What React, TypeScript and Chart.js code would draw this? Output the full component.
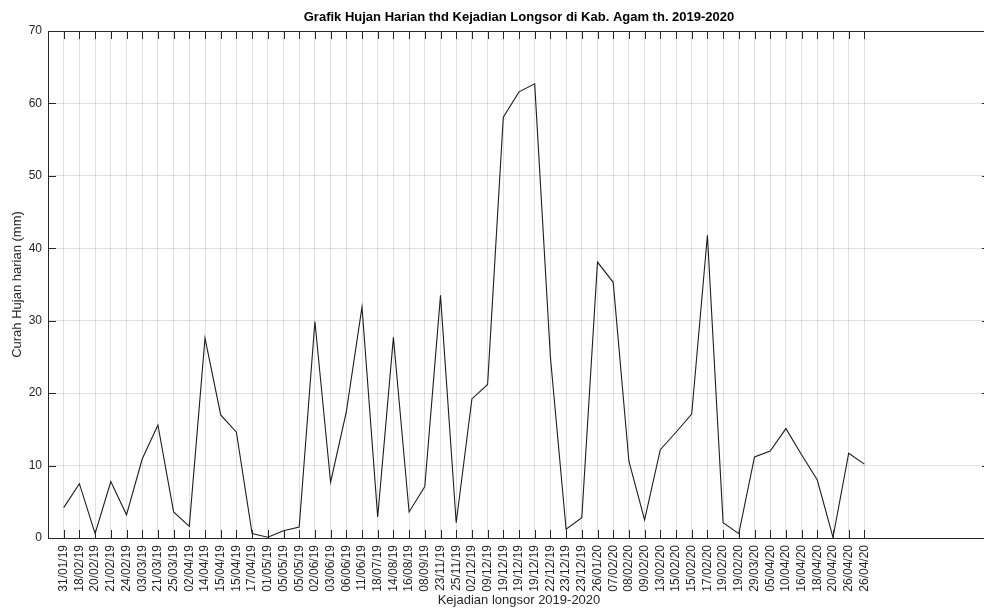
import { useEffect, useRef } from 'react';
import { Chart, registerables } from 'chart.js';

Chart.register(...registerables);

const categories: string[] = [
  '31/01/19', '18/02/19', '20/02/19', '21/02/19', '24/02/19', '03/03/19', '21/03/19', '25/03/19',
  '02/04/19', '14/04/19', '15/04/19', '15/04/19', '17/04/19', '01/05/19', '05/05/19', '05/05/19',
  '02/06/19', '03/06/19', '06/06/19', '11/06/19', '18/07/19', '14/08/19', '16/08/19', '08/09/19',
  '23/11/19', '25/11/19', '02/12/19', '09/12/19', '19/12/19', '19/12/19', '19/12/19', '22/12/19',
  '23/12/19', '23/12/19', '26/01/20', '07/02/20', '08/02/20', '09/02/20', '13/02/20', '15/02/20',
  '15/02/20', '17/02/20', '19/02/20', '19/02/20', '29/03/20', '05/04/20', '10/04/20', '16/04/20',
  '18/04/20', '20/04/20', '26/04/20', '26/04/20',
];

const rainfall: number[] = [
  4.2, 7.5, 0.6, 7.8, 3.2, 10.9, 15.6, 3.6,
  1.6, 27.6, 17.0, 14.6, 0.6, 0.1, 1.0, 1.5,
  29.9, 7.7, 17.4, 31.9, 2.9, 27.7, 3.6, 7.1,
  33.5, 2.1, 19.2, 21.2, 58.1, 61.6, 62.7, 25.0,
  1.2, 2.8, 38.1, 35.3, 10.6, 2.5, 12.2, 14.6,
  17.1, 41.8, 2.1, 0.6, 11.2, 12.0, 15.1, 11.5,
  8.0, 0.1, 11.7, 10.2,
];

const yTicks: number[] = [0, 10, 20, 30, 40, 50, 60, 70];

const FONT = "'Liberation Sans', Arial, Helvetica, sans-serif";
const AXIS_COLOR = '#262626';

const boxAndTicks = {
  id: 'boxAndTicks',
  afterDraw(chart: any) {
    const { ctx, chartArea } = chart;
    const { left, right, top, bottom } = chartArea;
    const x = chart.scales.x;
    const y = chart.scales.y;
    const len = 8;
    ctx.save();
    ctx.strokeStyle = AXIS_COLOR;
    ctx.lineWidth = 1;
    ctx.beginPath();
    categories.forEach((_, i) => {
      const px = Math.round(x.getPixelForValue(i + 1)) + 0.5;
      ctx.moveTo(px, bottom);
      ctx.lineTo(px, bottom - len);
      ctx.moveTo(px, top);
      ctx.lineTo(px, top + len);
    });
    yTicks.forEach((v) => {
      const py = Math.round(y.getPixelForValue(v)) + 0.5;
      ctx.moveTo(left, py);
      ctx.lineTo(left + len, py);
      ctx.moveTo(right, py);
      ctx.lineTo(right - len, py);
    });
    ctx.stroke();
    ctx.strokeRect(Math.round(left) + 0.5, Math.round(top) + 0.5, Math.round(right - left), Math.round(bottom - top));
    ctx.restore();
  },
};

export default function App() {
  const canvasRef = useRef<HTMLCanvasElement | null>(null);

  useEffect(() => {
    if (!canvasRef.current) return;
    const chart = new Chart(canvasRef.current, {
      type: 'line',
      data: {
        datasets: [
          {
            label: 'Curah Hujan harian (mm)',
            data: rainfall.map((v, i) => ({ x: i + 1, y: v })),
            borderColor: '#1e1e1e',
            borderWidth: 1.1,
            pointRadius: 0,
            tension: 0,
            fill: false,
          },
        ],
      },
      options: {
        animation: false,
        responsive: false,
        maintainAspectRatio: false,
        layout: { padding: { left: 0, right: 2, top: 0, bottom: 0 } },
        plugins: {
          legend: { display: false },
          tooltip: { enabled: false },
          title: {
            display: true,
            fullSize: false,
            text: 'Grafik Hujan Harian thd Kejadian Longsor di Kab. Agam th. 2019-2020',
            color: '#000000',
            font: { family: FONT, size: 13, weight: 'bold' },
            padding: { top: 9.2, bottom: 6.2 },
          },
        },
        scales: {
          x: {
            type: 'linear',
            min: 0,
            max: 60,
            afterBuildTicks: (scale: any) => {
              scale.ticks = categories.map((_, i) => ({ value: i + 1 }));
            },
            afterFit: (scale: any) => {
              scale.height = 70;
            },
            ticks: {
              autoSkip: false,
              minRotation: 90,
              maxRotation: 90,
              padding: 7,
              color: AXIS_COLOR,
              font: { family: FONT, size: 12 },
              callback: (value: any) => categories[Number(value) - 1] ?? '',
            },
            grid: { color: 'rgba(0,0,0,0.12)', drawTicks: false },
            border: { display: false },
            title: {
              display: true,
              text: 'Kejadian longsor 2019-2020',
              color: AXIS_COLOR,
              font: { family: FONT, size: 13 },
              padding: { top: 0, bottom: 0 },
            },
          },
          y: {
            type: 'linear',
            min: 0,
            max: 70,
            afterBuildTicks: (scale: any) => {
              scale.ticks = yTicks.map((v) => ({ value: v }));
            },
            afterFit: (scale: any) => {
              scale.width = 48;
            },
            ticks: {
              padding: 6,
              color: AXIS_COLOR,
              font: { family: FONT, size: 12 },
            },
            grid: { color: 'rgba(0,0,0,0.12)', drawTicks: false },
            border: { display: false },
            title: {
              display: true,
              text: 'Curah Hujan harian (mm)',
              color: AXIS_COLOR,
              font: { family: FONT, size: 13 },
              padding: { top: 10, bottom: 0 },
            },
          },
        },
      },
      plugins: [boxAndTicks],
    } as any);
    return () => chart.destroy();
  }, []);

  return (
    <div
      style={{
        position: 'fixed',
        left: 0,
        top: 0,
        width: 984,
        height: 608,
        overflow: 'hidden',
        background: '#ffffff',
      }}
    >
      <canvas ref={canvasRef} width={992} height={608} style={{ display: 'block' }} />
    </div>
  );
}
